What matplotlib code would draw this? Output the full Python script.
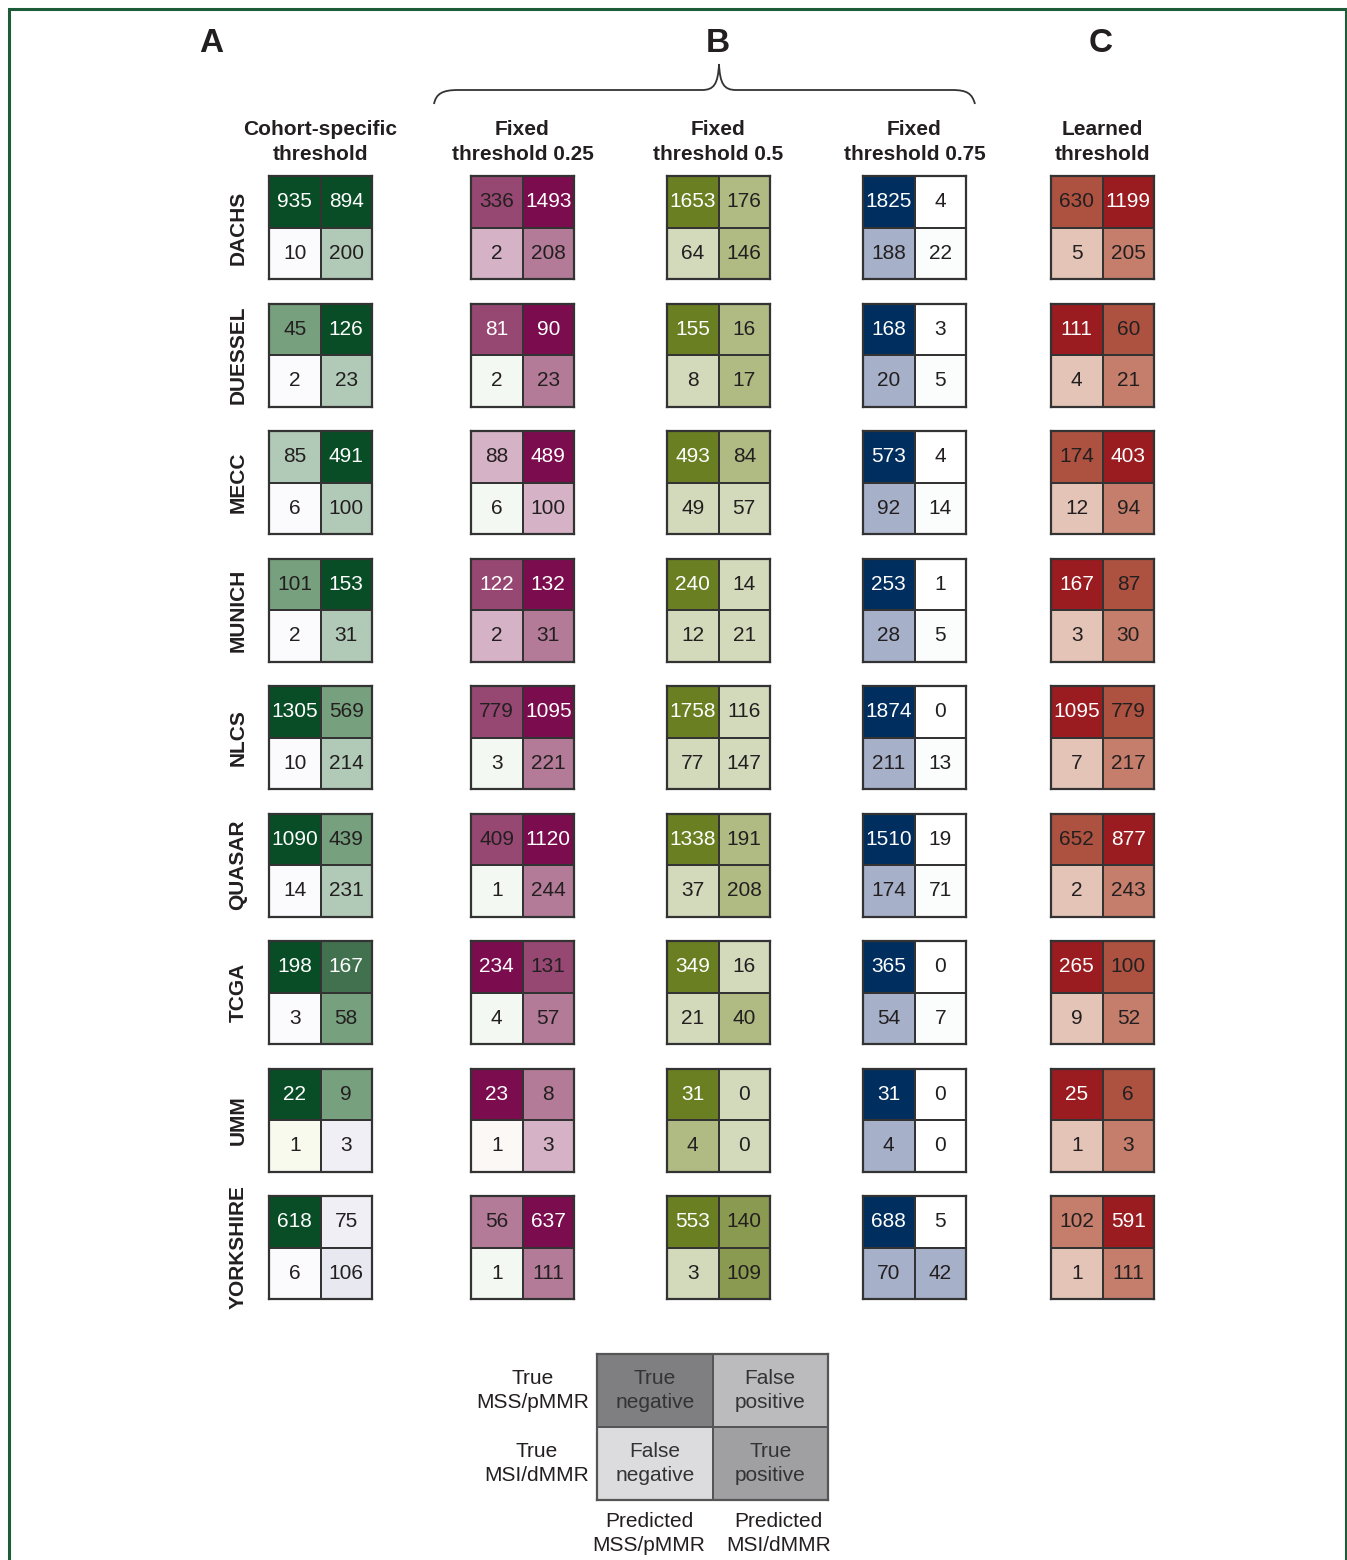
import numpy as np
import matplotlib
matplotlib.use('Agg')
import matplotlib.pyplot as plt
from matplotlib.colors import ListedColormap
from matplotlib.path import Path
from matplotlib.patches import PathPatch

plt.rcParams['font.family'] = ['Liberation Sans', 'DejaVu Sans']

# ---------------- data ----------------
cohorts = ['DACHS', 'DUESSEL', 'MECC', 'MUNICH', 'NLCS', 'QUASAR', 'TCGA', 'UMM', 'YORKSHIRE']
panel_letters = ['A', 'B', 'C']
panel_titles = ['Cohort-specific\nthreshold', 'Fixed\nthreshold 0.25', 'Fixed\nthreshold 0.5',
                'Fixed\nthreshold 0.75', 'Learned\nthreshold']

# each cohort: [TN, FP, FN, TP]
cohort_specific = [[935, 894, 10, 200], [45, 126, 2, 23], [85, 491, 6, 100], [101, 153, 2, 31],
                   [1305, 569, 10, 214], [1090, 439, 14, 231], [198, 167, 3, 58], [22, 9, 1, 3],
                   [618, 75, 6, 106]]
fixed_025 = [[336, 1493, 2, 208], [81, 90, 2, 23], [88, 489, 6, 100], [122, 132, 2, 31],
             [779, 1095, 3, 221], [409, 1120, 1, 244], [234, 131, 4, 57], [23, 8, 1, 3],
             [56, 637, 1, 111]]
fixed_050 = [[1653, 176, 64, 146], [155, 16, 8, 17], [493, 84, 49, 57], [240, 14, 12, 21],
             [1758, 116, 77, 147], [1338, 191, 37, 208], [349, 16, 21, 40], [31, 0, 4, 0],
             [553, 140, 3, 109]]
fixed_075 = [[1825, 4, 188, 22], [168, 3, 20, 5], [573, 4, 92, 14], [253, 1, 28, 5],
             [1874, 0, 211, 13], [1510, 19, 174, 71], [365, 0, 54, 7], [31, 0, 4, 0],
             [688, 5, 70, 42]]
learned = [[630, 1199, 5, 205], [111, 60, 4, 21], [174, 403, 12, 94], [167, 87, 3, 30],
           [1095, 779, 7, 217], [652, 877, 2, 243], [265, 100, 9, 52], [25, 6, 1, 3],
           [102, 591, 1, 111]]

# shade level of each cell (index into the panel palette)
shade_cohort_specific = [[4, 4, 0, 1], [2, 4, 0, 1], [1, 4, 0, 1], [2, 4, 0, 1], [4, 2, 0, 1],
                         [4, 2, 0, 1], [4, 3, 0, 2], [4, 2, 7, 5], [4, 5, 0, 6]]
shade_fixed_025 = [[3, 4, 1, 2], [6, 4, 0, 2], [1, 4, 0, 1], [6, 4, 1, 2], [3, 4, 0, 2],
                   [3, 4, 0, 2], [4, 3, 0, 2], [4, 2, 5, 1], [2, 4, 0, 2]]
shade_fixed_050 = [[3, 1, 0, 1], [3, 1, 0, 1], [3, 1, 0, 0], [3, 0, 0, 0], [3, 0, 0, 0],
                   [3, 1, 0, 1], [3, 0, 0, 1], [3, 0, 1, 0], [3, 2, 0, 2]]
shade_fixed_075 = [[3, 0, 2, 1], [3, 0, 2, 1], [3, 0, 2, 1], [3, 0, 2, 1], [3, 0, 2, 1],
                   [3, 0, 2, 1], [3, 0, 2, 1], [3, 0, 2, 0], [3, 0, 2, 2]]
shade_learned = [[2, 3, 0, 1], [3, 2, 0, 1], [2, 3, 0, 1], [3, 2, 0, 1], [3, 2, 0, 1],
                 [2, 3, 0, 1], [3, 2, 0, 1], [3, 2, 0, 1], [1, 3, 0, 1]]

legend_cells = ['True\nnegative', 'False\npositive', 'False\nnegative', 'True\npositive']
legend_rows = ['True\nMSS/pMMR', 'True\nMSI/dMMR']
legend_cols = ['Predicted\nMSS/pMMR', 'Predicted\nMSI/dMMR']

# ---------------- styles ----------------
D = '#231f20'
Wt = '#ffffff'
pal_green = [('#fbfafc', D), ('#b1c9b7', D), ('#76a07e', D), ('#41714f', Wt), ('#084d26', Wt),
             ('#f0eff5', D), ('#e8e8f1', D), ('#f8faee', D)]
pal_purple = [('#f4f8f2', D), ('#d5b2c6', D), ('#b37b98', D), ('#974872', D), ('#7b0c4e', Wt),
              ('#fcf8f6', D), ('#974872', Wt)]
pal_olive = [('#d3dabb', D), ('#b0bb84', D), ('#8a9a50', D), ('#6a7f22', Wt)]
pal_navy = [('#ffffff', D), ('#fbfcfc', D), ('#a6b0c9', D), ('#002e5e', Wt)]
pal_red = [('#e3c4b6', D), ('#c47e6b', D), ('#ad5240', D), ('#9a1b20', Wt)]
pal_legend = [('#7f7f81', '#333333'), ('#bbbbbd', '#333333'), ('#dcdcde', '#333333'),
              ('#a0a0a2', '#333333')]

panels = [(cohort_specific, shade_cohort_specific, pal_green),
          (fixed_025, shade_fixed_025, pal_purple),
          (fixed_050, shade_fixed_050, pal_olive),
          (fixed_075, shade_fixed_075, pal_navy),
          (learned, shade_learned, pal_red)]

FW, FH = 1347, 1560
fig = plt.figure(figsize=(FW / 100, FH / 100), dpi=100)

bg = fig.add_axes([0, 0, 1, 1], zorder=0)
bg.set_xlim(0, FW)
bg.set_ylim(FH, 0)
bg.axis('off')

# green frame
bg.plot([9, 9, 1346, 1346], [FH + 10, 9, 9, FH + 10], color='#1d5c38', lw=2.2,
        solid_joinstyle='miter')

col_left = [269, 471, 667, 863, 1051]
cell_box = 103
row_top0 = 176
row_pitch = 127.5


def px_axes(x0, y0, w, h):
    return fig.add_axes([x0 / FW, 1 - (y0 + h) / FH, w / FW, h / FH], zorder=2)


def draw_matrix(ax, vals, levels, palette, edge='#333333', fs=15, labels=None):
    lv = np.array(levels).reshape(2, 2)
    cmap = ListedColormap([p[0] for p in palette])
    ax.pcolormesh(lv, cmap=cmap, vmin=-0.5, vmax=len(palette) - 0.5,
                  edgecolors=edge, linewidth=1.3)
    ax.set_xlim(0, 2)
    ax.set_ylim(2, 0)
    ax.set_xticks([])
    ax.set_yticks([])
    for s in ax.spines.values():
        s.set_color(edge)
        s.set_linewidth(1.6)
    for k in range(4):
        r, c = divmod(k, 2)
        txt = str(vals[k]) if labels is None else labels[k]
        ax.text(c + 0.5, r + 0.5, txt, ha='center', va='center',
                fontsize=fs, color=palette[lv[r, c]][1], linespacing=1.35)


for j, (vals, shades, pal) in enumerate(panels):
    cx = col_left[j] + cell_box / 2
    bg.text(cx, 142, panel_titles[j], ha='center', va='center', fontsize=15,
            fontweight='bold', color=D, linespacing=1.45)
    for i, name in enumerate(cohorts):
        y0 = row_top0 + i * row_pitch
        ax = px_axes(col_left[j], y0, cell_box, cell_box)
        draw_matrix(ax, vals[i], shades[i], pal)

for i, name in enumerate(cohorts):
    yc = row_top0 + i * row_pitch + cell_box / 2
    bg.text(238, yc, name, rotation=90, ha='center', va='center', fontsize=15,
            fontweight='bold', color=D)

# panel letters
letter_x = [211, 718, 1101]
for lx, L in zip(letter_x, panel_letters):
    bg.text(lx, 43, L, ha='center', va='center', fontsize=24, fontweight='bold', color=D)

# brace over panel B
verts = [(434, 104), (436, 94), (442, 90), (458, 90),
         (702, 90),
         (714, 90), (718, 84), (719, 64),
         (720, 84), (724, 90), (736, 90),
         (952, 90),
         (968, 90), (972, 94), (975, 104)]
codes = [Path.MOVETO, Path.CURVE4, Path.CURVE4, Path.CURVE4,
         Path.LINETO,
         Path.CURVE4, Path.CURVE4, Path.CURVE4,
         Path.CURVE4, Path.CURVE4, Path.CURVE4,
         Path.LINETO,
         Path.CURVE4, Path.CURVE4, Path.CURVE4]
bg.add_patch(PathPatch(Path(verts, codes), facecolor='none', edgecolor='#333333', lw=1.3))

# legend matrix
lax = px_axes(597, 1354, 231, 146)
draw_matrix(lax, [0, 0, 0, 0], [0, 1, 2, 3], pal_legend, edge='#555555', fs=15, labels=legend_cells)
for r, t in enumerate(legend_rows):
    lax.text(-0.07, r + 0.5, t, ha='right', va='center', fontsize=15, color=D,
             multialignment='center', linespacing=1.35)
for c, (t, xc) in enumerate(zip(legend_cols, [0.45, 1.57])):
    lax.text(xc, 2.46, t, ha='center', va='center', fontsize=15, color=D, linespacing=1.35)

fig.savefig('out.png', dpi=100, facecolor='white')
